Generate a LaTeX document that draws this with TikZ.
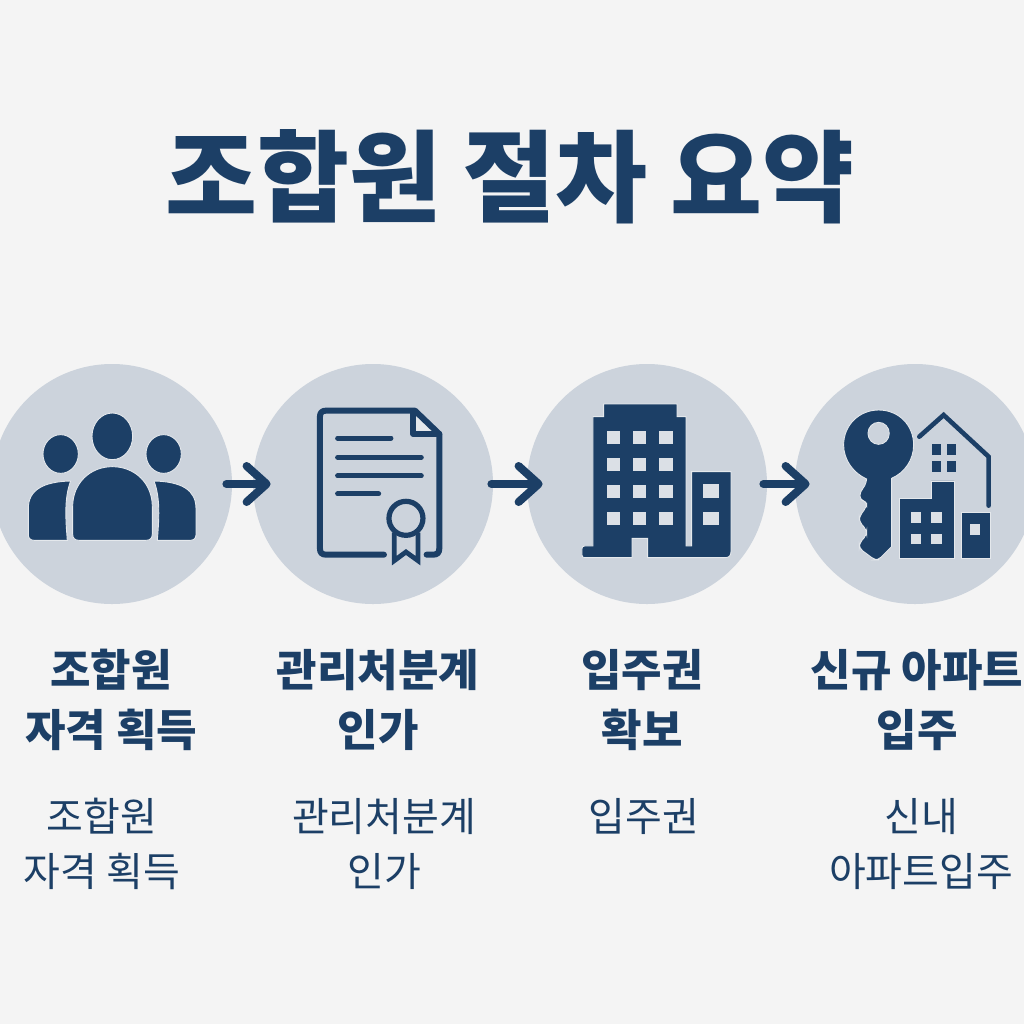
\documentclass[tikz,border=0pt]{standalone}
\usepackage{fontspec}
\usepackage{xcolor}
\usetikzlibrary{arrows.meta}
\setmainfont{Noto Sans CJK KR}
\definecolor{navy}{HTML}{1C3F66}
\definecolor{disc}{HTML}{CCD3DC}
\definecolor{paper}{HTML}{F4F4F4}
\definecolor{halo}{HTML}{E4E8EC}
\tikzset{
  stepdisc/.style={circle, fill=disc, minimum size=120pt, inner sep=0pt},
  flow/.style={navy, line width=4pt, line cap=round, -{Straight Barb[round, length=10pt, width=18pt]}},
  solid part/.style={fill=navy, draw=halo, line width=0.45pt},
  pane/.style={fill=disc!70!white},
  ink/.style={navy, line width=3pt, line cap=round, line join=round},
  thin ink/.style={navy, line width=2.5pt, line cap=round},
  steptitle/.style={text=navy, font=\fontsize{22}{29.7}\selectfont\bfseries, align=center, inner sep=0pt},
  stepnote/.style={text=navy, font=\fontsize{20}{27.5}\selectfont, align=center, inner sep=0pt}
}
\begin{document}
\begin{tikzpicture}[x=0.5pt, y=-0.5pt]
  \useasboundingbox (0,0) rectangle (1024,1024);
  \fill[paper] (0,0) rectangle (1024,1024);
  \node[text=navy, font=\fontsize{50}{60}\selectfont\bfseries, inner sep=0pt] (title) at (510,177) {조합원 절차 요약};

  % discs and arrows
  \node[stepdisc] (c1) at (112,484) {};
  \node[stepdisc] (c2) at (373,484) {};
  \node[stepdisc] (c3) at (647,484) {};
  \node[stepdisc] (c4) at (915,484) {};
  \draw[flow] ([xshift=-3pt]c1.east) -- ([xshift=9pt]c2.west);
  \draw[flow] ([xshift=-1pt]c2.east) -- ([xshift=8pt]c3.west);
  \draw[flow] ([xshift=-2pt]c3.east) -- ([xshift=7.5pt]c4.west);

  % members
  \begin{scope}[shift={(0,360)}, scale=0.3333]
    \draw[solid part] (337,229) ellipse (61 and 70);
    \draw[solid part] (182,282) ellipse (53 and 58);
    \draw[solid part] (491,282) ellipse (53 and 58);
    \draw[solid part] (218,522) -- (218,440) .. controls (218,370) and (270,320) .. (337,320)
      .. controls (405,320) and (457,370) .. (457,440) -- (457,522)
      .. controls (457,535) and (450,541) .. (438,541) -- (237,541)
      .. controls (225,541) and (218,535) .. (218,522) -- cycle;
    \draw[solid part] (212,363) .. controls (130,365) and (85,390) .. (85,445) -- (85,525)
      .. controls (85,535) and (92,541) .. (102,541) -- (202,541)
      .. controls (197,480) and (192,415) .. (212,363) -- cycle;
    \draw[solid part] (462,363) .. controls (545,365) and (588,390) .. (588,445) -- (588,525)
      .. controls (588,535) and (581,541) .. (571,541) -- (472,541)
      .. controls (477,480) and (482,415) .. (462,363) -- cycle;
  \end{scope}

  % document with seal
  \begin{scope}[shift={(0,360)}, scale=0.3333]
    \fill[halo] (1242,152) -- (1242,222) -- (1318,222) -- cycle;
    \draw[ink] (1152,584) -- (978,584) .. controls (966,584) and (960,578) .. (960,566)
      -- (960,170) .. controls (960,158) and (966,152) .. (978,152) -- (1245,152)
      -- (1318,222) -- (1318,566) .. controls (1318,578) and (1312,584) .. (1300,584) -- (1280,584);
    \draw[ink] (1240,155) -- (1240,222) -- (1318,222);
    \draw[thin ink] (1013,234) -- (1173,234);
    \draw[thin ink] (1013,292) -- (1264,292);
    \draw[thin ink] (1013,348) -- (1264,348);
    \draw[thin ink] (1013,402) -- (1136,402);
    \draw[navy, line width=2.6pt] (1218,475) circle (51);
    \draw[navy, line width=2.4pt, miter limit=4] (1183,518) -- (1183,602) -- (1218,576) -- (1254,602) -- (1254,518);
  \end{scope}

  % tower
  \begin{scope}[shift={(512,360)}, scale=0.3333]
    \draw[solid part] (275,132) -- (495,132) -- (495,170) -- (522,170) -- (522,558) -- (539,558)
      -- (539,335) -- (657,335) -- (657,575) .. controls (657,587) and (651,593) .. (640,593)
      -- (407,593) -- (407,535) -- (360,535) -- (360,593) -- (218,593)
      .. controls (212,593) and (210,590) .. (210,585) -- (210,566)
      .. controls (210,561) and (212,558) .. (218,558) -- (243,558) -- (243,170) -- (275,170) -- cycle;
    \foreach \col in {285,363,442}
      \foreach \row in {212,293,374,455}
        \fill[pane] (\col,\row) rectangle ++(40,41);
    \fill[pane] (572,373) rectangle (620,415);
    \fill[pane] (572,456) rectangle (620,495);
  \end{scope}

  % key and house
  \begin{scope}[shift={(512,360)}, scale=0.3333]
    \draw[solid part, even odd rule] (1064,357) .. controls (1025,340) and (995,300) .. (995,255)
      .. controls (995,195) and (1042,150) .. (1100,150)
      .. controls (1160,150) and (1205,195) .. (1205,255)
      .. controls (1205,300) and (1178,338) .. (1139,355)
      -- (1139,560) [rounded corners=2pt] -- (1099,600) -- (1089,600) -- (1042,565) -- (1042,550)
      -- (1064,525) -- (1064,510) -- (1042,485) -- (1042,470) -- (1064,440) -- (1064,425)
      -- (1044,420) -- (1044,395) -- (1060,378) [sharp corners] -- cycle
      (1100,220) ellipse (32 and 33);
    \draw[ink, line width=2.3pt, line cap=round, line join=miter] (1222,230) -- (1295,165) -- (1430,290) -- (1430,437);
    \foreach \col/\row in {1260/253, 1305/253, 1260/303, 1305/303}
      \fill[navy] (\col,\row) rectangle ++(28,32);
    \draw[solid part] (1162,415) -- (1258,415) -- (1258,363) -- (1327,363) -- (1327,595) -- (1162,595) -- cycle;
    \foreach \col/\row in {1197/457, 1258/457, 1197/522, 1258/522}
      \fill[pane] (\col,\row) rectangle ++(31,31);
    \draw[solid part] (1348,458) rectangle (1435,595);
    \fill[pane] (1373,492) rectangle (1405,525);
  \end{scope}

  % headings
  \node[steptitle] (t1) at (111,700) {조합원\\자격 획득};
  \node[steptitle] (t2) at (378,700) {관리처분계\\인가};
  \node[steptitle] (t3) at (642,700) {입주권\\확보};
  \node[steptitle] (t4) at (917,700) {신규 아파트\\입주};

  % notes
  \node[stepnote] (n1) at (102,844) {조합원\\자격 획득};
  \node[stepnote] (n2) at (384,844) {관리처분계\\인가};
  \node[stepnote] (n3) at (644,816) {입주권};
  \node[stepnote] (n4) at (921,844) {신내\\아파트입주};
\end{tikzpicture}
\end{document}
